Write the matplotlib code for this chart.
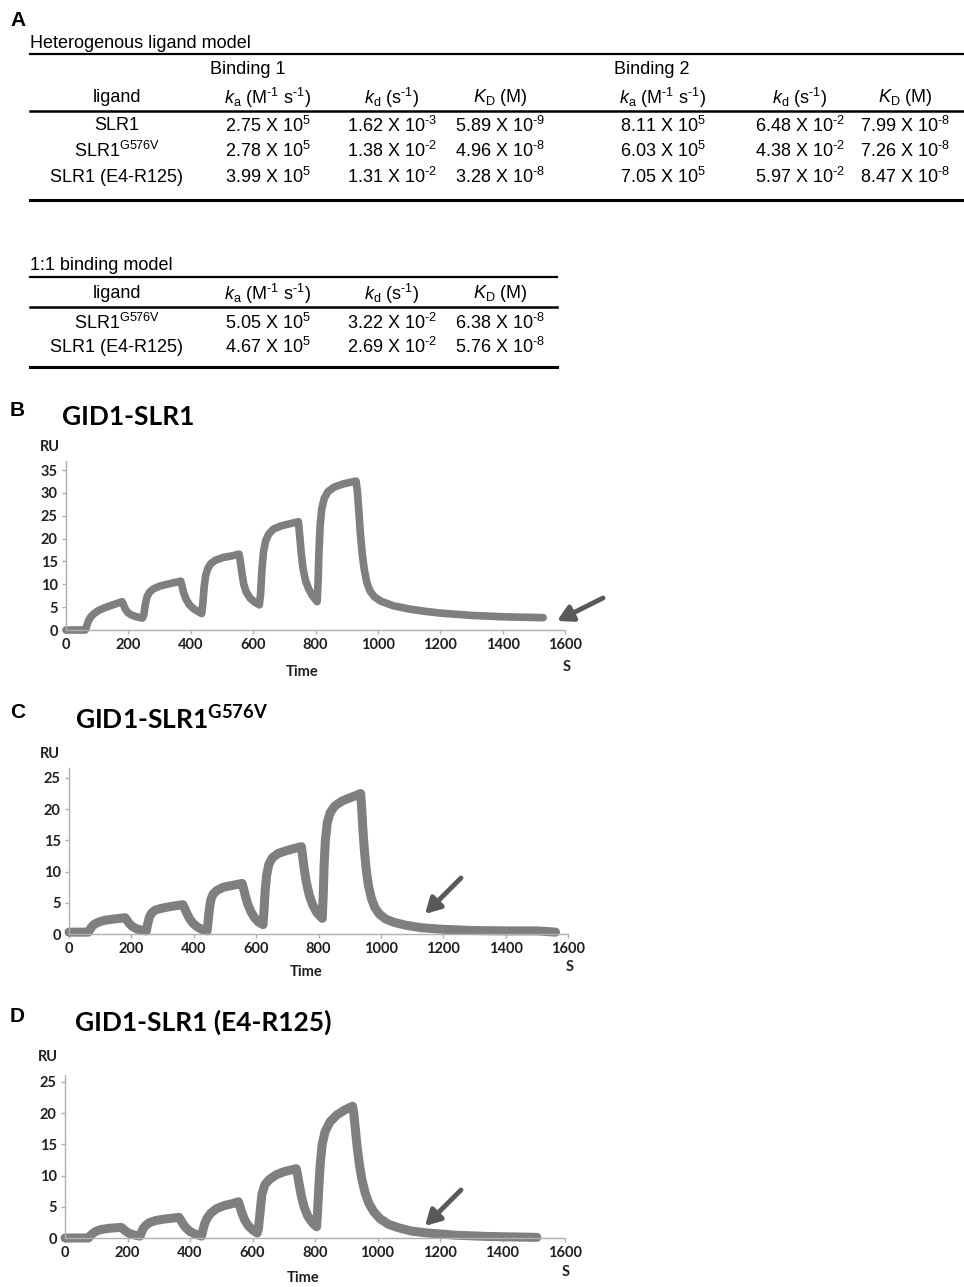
import matplotlib
matplotlib.use('Agg')
import matplotlib.pyplot as plt
from matplotlib.lines import Line2D

plt.rcParams['mathtext.fontset'] = 'custom'
plt.rcParams['mathtext.rm'] = 'Liberation Sans'
plt.rcParams['mathtext.it'] = 'Liberation Sans:italic'
plt.rcParams['mathtext.bf'] = 'Lato:bold'

# ---- table data (panel A) ----
het_ligands = ['SLR1', r'SLR1$^{\mathrm{G576V}}$', 'SLR1 (E4-R125)']
het_ka1 = [(2.75, 5), (2.78, 5), (3.99, 5)]
het_kd1 = [(1.62, -3), (1.38, -2), (1.31, -2)]
het_KD1 = [(5.89, -9), (4.96, -8), (3.28, -8)]
het_ka2 = [(8.11, 5), (6.03, 5), (7.05, 5)]
het_kd2 = [(6.48, -2), (4.38, -2), (5.97, -2)]
het_KD2 = [(7.99, -8), (7.26, -8), (8.47, -8)]

one_ligands = [r'SLR1$^{\mathrm{G576V}}$', 'SLR1 (E4-R125)']
one_ka = [(5.05, 5), (4.67, 5)]
one_kd = [(3.22, -2), (2.69, -2)]
one_KD = [(6.38, -8), (5.76, -8)]

HY = '\u2010'  # short hyphen instead of the long mathtext minus
col_heads = [r'$k_\mathrm{a}$ (M$^{' + HY + r'1}$ s$^{' + HY + r'1}$)',
             r'$k_\mathrm{d}$ (s$^{' + HY + r'1}$)', r'$K_\mathrm{D}$ (M)']

# ---- sensorgram data (time s, RU) ----
b_time = [0, 62, 66, 72, 80, 90, 105, 125, 150, 180,
          184, 190, 198, 210, 225, 245,
          250, 254, 260, 268, 280, 300, 330, 368,
          372, 378, 386, 396, 410, 425, 435,
          439, 443, 448, 455, 465, 480, 505, 530, 555,
          559, 564, 570, 578, 590, 605, 620,
          624, 628, 633, 640, 650, 665, 690, 720, 745,
          749, 754, 760, 768, 778, 790, 805,
          808, 811, 815, 820, 828, 840, 860, 890, 930,
          934, 939, 944, 950, 957, 965, 975, 990, 1010, 1050, 1100, 1150, 1200, 1300, 1400, 1530]
b_ru = [0, 0, 0.8, 2.0, 2.9, 3.6, 4.3, 4.9, 5.5, 6.2,
        5.6, 4.6, 3.8, 3.3, 2.9, 2.6,
        3.5, 5.5, 7.3, 8.3, 9.0, 9.6, 10.1, 10.7,
        9.6, 8.0, 6.6, 5.5, 4.6, 4.0, 3.6,
        6.0, 9.5, 12.0, 13.5, 14.6, 15.3, 15.9, 16.2, 16.6,
        15.0, 12.5, 10.0, 8.3, 7.0, 6.1, 5.5,
        8.0, 13.0, 17.0, 19.5, 21.0, 22.1, 22.8, 23.3, 23.7,
        21.0, 17.0, 13.5, 10.8, 9.0, 7.5, 6.2,
        10.0, 17.0, 23.0, 26.5, 28.8, 30.3, 31.3, 32.0, 32.6,
        30.5, 26.0, 21.0, 16.5, 13.0, 10.3, 8.5, 7.2, 6.3, 5.3, 4.6, 4.1, 3.7, 3.2, 2.9, 2.7]

c_time = [0, 62, 66, 72, 82, 95, 115, 145, 180,
          186, 193, 203, 218, 235, 248,
          252, 257, 264, 275, 295, 325, 365,
          370, 377, 386, 398, 412, 428, 443,
          446, 450, 455, 462, 475, 495, 525, 555,
          559, 565, 573, 583, 595, 608, 622,
          625, 629, 634, 641, 652, 670, 700, 745,
          749, 754, 761, 770, 781, 795, 812,
          815, 818, 822, 828, 837, 852, 875, 905, 935,
          938, 942, 947, 953, 960, 969, 980, 995, 1015, 1040, 1080, 1130, 1200, 1300, 1400, 1500, 1560]
c_ru = [0.3, 0.3, 0.6, 1.1, 1.6, 1.9, 2.2, 2.4, 2.6,
        2.2, 1.7, 1.2, 0.8, 0.6, 0.5,
        1.5, 2.6, 3.3, 3.8, 4.1, 4.4, 4.7,
        4.2, 3.4, 2.5, 1.7, 1.1, 0.7, 0.5,
        2.0, 4.0, 5.5, 6.4, 7.0, 7.5, 7.8, 8.1,
        7.4, 6.2, 4.8, 3.6, 2.6, 1.9, 1.5,
        3.5, 7.0, 9.5, 11.2, 12.2, 12.9, 13.4, 14.0,
        12.5, 10.5, 8.3, 6.3, 4.7, 3.4, 2.5,
        6.0, 11.0, 15.0, 17.8, 19.4, 20.5, 21.3, 21.9, 22.5,
        20.5, 17.0, 13.5, 10.3, 7.8, 5.8, 4.3, 3.2, 2.4, 1.9, 1.4, 1.0, 0.75, 0.55, 0.5, 0.5, 0.3]

d_time = [0, 75, 80, 88, 100, 115, 140, 180,
          186, 194, 205, 220, 240,
          244, 250, 258, 270, 290, 320, 365,
          370, 377, 386, 398, 413, 437,
          441, 447, 455, 467, 485, 510, 535, 555,
          560, 566, 575, 586, 600, 615,
          619, 624, 630, 640, 655, 675, 700, 740,
          744, 749, 756, 765, 777, 792, 805,
          808, 812, 817, 823, 832, 848, 870, 895, 920,
          924, 929, 935, 942, 950, 960, 972, 988, 1008, 1035, 1070, 1110, 1160, 1250, 1350, 1510]
d_ru = [0, 0, 0.3, 0.7, 1.1, 1.35, 1.55, 1.7,
        1.45, 1.1, 0.75, 0.5, 0.3,
        0.8, 1.5, 2.0, 2.45, 2.8, 3.05, 3.3,
        2.9, 2.3, 1.7, 1.1, 0.7, 0.3,
        1.2, 2.3, 3.2, 4.0, 4.7, 5.2, 5.5, 5.8,
        5.0, 4.0, 2.9, 2.0, 1.3, 0.8,
        1.5, 4.0, 7.0, 8.6, 9.4, 10.1, 10.6, 11.1,
        10.2, 8.7, 6.8, 5.0, 3.5, 2.4, 1.8,
        4.0, 8.0, 12.0, 15.0, 17.0, 18.6, 19.7, 20.5, 21.1,
        20.0, 17.5, 14.5, 11.8, 9.4, 7.3, 5.6, 4.2, 3.1, 2.2, 1.6, 1.1, 0.8, 0.45, 0.25, 0.1]

x_ticks = [0, 200, 400, 600, 800, 1000, 1200, 1400, 1600]

W, H = 964, 1287
fig = plt.figure(figsize=(W / 100, H / 100), dpi=100)


def fig_rect(left, right, y0_px, ytop_px):
    return [left / W, 1 - y0_px / H, (right - left) / W, (y0_px - ytop_px) / H]


def sensorgram(rect, t, ru, ymax, yticks, lw):
    ax = fig.add_axes(rect)
    ax.set_facecolor('none')
    ax.plot(t, ru, color='#7f7f7f', lw=lw, solid_capstyle='round', solid_joinstyle='round', clip_on=False)
    ax.set_xlim(0, 1600)
    ax.set_ylim(0, ymax)
    ax.set_xticks(x_ticks)
    ax.set_yticks(yticks)
    for s in ['top', 'right']:
        ax.spines[s].set_visible(False)
    for s in ['left', 'bottom']:
        ax.spines[s].set_color('#b0b0b0')
        ax.spines[s].set_linewidth(1)
    ax.tick_params(length=3, width=1, color='#b0b0b0', labelsize=10.5, pad=3)
    for lab in ax.get_xticklabels() + ax.get_yticklabels():
        lab.set_fontfamily('Lato')
        lab.set_fontweight('bold')
        lab.set_color('#202020')
    return ax


ax_b = sensorgram(fig_rect(66, 565, 630, 461), b_time, b_ru, 37, range(0, 36, 5), 5.5)
ax_c = sensorgram(fig_rect(69, 568, 934, 768), c_time, c_ru, 26.6, range(0, 26, 5), 6.5)
ax_d = sensorgram(fig_rect(65, 565, 1238, 1075), d_time, d_ru, 26.1, range(0, 26, 5), 6.5)

# overlay in pixel coordinates for tables, labels and arrows
ov = fig.add_axes([0, 0, 1, 1])
ov.set_xlim(0, W)
ov.set_ylim(H, 0)
ov.axis('off')

tfont = dict(family='Liberation Sans', fontsize=13, color='black', va='center', ha='center')
bold_lab = dict(family='Liberation Sans', fontweight='bold', fontsize=15, va='center', ha='left')


def sci(v):
    m, e = v
    sign = HY if e < 0 else ''
    return f'{m:.2f} X 10$^{{{sign}{abs(e)}}}$'


def hline(x0, x1, y, lw):
    ov.add_line(Line2D([x0, x1], [y, y], color='black', lw=lw))


# panel A
ov.text(10, 20, 'A', **bold_lab)
ov.text(30, 43, 'Heterogenous ligand model', family='Liberation Sans', fontsize=13, va='center', ha='left')
hline(30, 964, 54, 1.6)
ov.text(248, 70, 'Binding 1', **tfont)
ov.text(652, 70, 'Binding 2', **tfont)
het_x = [117, 268, 392, 500, 663, 800, 905]
ov.text(het_x[0], 98, 'ligand', **tfont)
for x, h in zip(het_x[1:], col_heads + col_heads):
    ov.text(x, 98, h, **tfont)
hline(30, 964, 111, 1.8)
het_cols = [het_ka1, het_kd1, het_KD1, het_ka2, het_kd2, het_KD2]
for i, (y, lig) in enumerate(zip([126, 151, 177], het_ligands)):
    ov.text(het_x[0], y, lig, **tfont)
    for x, col in zip(het_x[1:], het_cols):
        ov.text(x, y, sci(col[i]), **tfont)
hline(30, 964, 200, 2.2)

ov.text(30, 265, '1:1 binding model', family='Liberation Sans', fontsize=13, va='center', ha='left')
hline(30, 557, 277, 1.6)
ov.text(het_x[0], 294, 'ligand', **tfont)
for x, h in zip(het_x[1:4], col_heads):
    ov.text(x, 294, h, **tfont)
hline(30, 557, 307, 1.8)
one_cols = [one_ka, one_kd, one_KD]
for i, (y, lig) in enumerate(zip([323, 347], one_ligands)):
    ov.text(het_x[0], y, lig, **tfont)
    for x, col in zip(het_x[1:4], one_cols):
        ov.text(x, y, sci(col[i]), **tfont)
hline(30, 557, 367, 2.2)

# panel labels, titles and axis texts
title_kw = dict(family='Lato', fontweight='bold', fontsize=19, va='center', ha='left')
small_kw = dict(family='Lato', fontweight='bold', fontsize=10.5, va='center', color='#202020')
for letter, ly, tx, title, ru_xy, time_xy, s_xy in [
        ('B', 411, 62, 'GID1-SLR1', (50, 447), (302, 672), (567, 667)),
        ('C', 713, 75, r'GID1-SLR1$^{\mathbf{G576V}}$', (50, 754), (306, 972), (570, 967)),
        ('D', 1016, 75, 'GID1-SLR1 (E4-R125)', (48, 1057), (303, 1278), (566, 1272))]:
    ov.text(10, ly, letter, **bold_lab)
    ov.text(tx, ly + 6, title, **title_kw)
    ov.text(*ru_xy, 'RU', ha='center', **small_kw)
    ov.text(*time_xy, 'Time', ha='center', **small_kw)
    ov.text(*s_xy, 'S', ha='center', **small_kw)

arrow_kw = dict(arrowstyle='-|>,head_length=0.9,head_width=0.5', color='#595959', lw=3.5,
                shrinkA=0, shrinkB=0)
for tail, head in [((603, 598), (557, 621)), ((461, 878), (425, 914)), ((461, 1190), (425, 1226))]:
    ov.annotate('', xy=head, xytext=tail, arrowprops=arrow_kw)

fig.savefig('out.png', dpi=100)
